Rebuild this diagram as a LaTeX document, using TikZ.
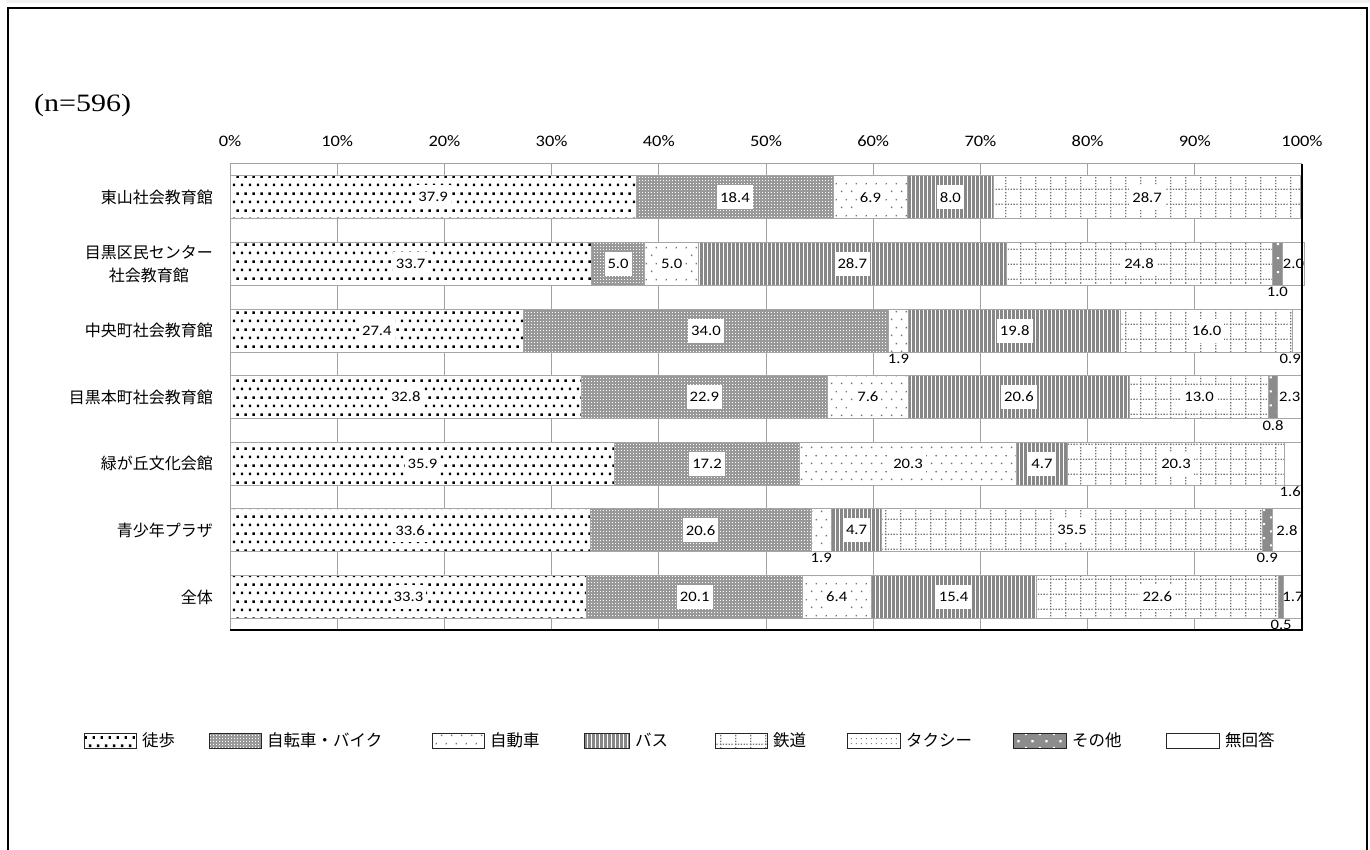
\documentclass[tikz,border=0pt]{standalone}
\usepackage{fontspec}
\newfontfamily\numfont{Carlito}[FakeStretch=1.15]
\newfontfamily\cjkfont{Noto Sans CJK JP}
\newfontfamily\titlefont{Liberation Serif}[FakeStretch=1.2]
\usetikzlibrary{patterns.meta}

\tikzdeclarepattern{name=walkdots,type=uncolored,
  bounding box={(0pt,0pt) and (8pt,17pt)},tile size={(8pt,17pt)},
  code={\fill (1pt,1pt) rectangle ++(2.6pt,2.6pt);
        \fill (5pt,9.5pt) rectangle ++(2.6pt,2.6pt);}}
\tikzdeclarepattern{name=finedots,type=uncolored,
  bounding box={(0pt,0pt) and (3pt,3pt)},tile size={(3pt,3pt)},
  code={\fill (0pt,0pt) rectangle ++(1.3pt,1.3pt);}}
\tikzdeclarepattern{name=cardots,type=uncolored,
  bounding box={(0pt,0pt) and (10pt,16pt)},tile size={(10pt,16pt)},
  code={\fill (1pt,2pt) rectangle ++(1.5pt,1.5pt);
        \fill (6pt,10pt) rectangle ++(1.5pt,1.5pt);}}
\tikzdeclarepattern{name=busbars,type=uncolored,
  bounding box={(0pt,-0.5pt) and (4pt,40.5pt)},tile size={(4pt,40pt)},
  code={\fill (0pt,-0.5pt) rectangle (2.9pt,40.5pt);}}
\tikzdeclarepattern{name=railgrid,type=uncolored,
  bounding box={(0pt,0pt) and (15pt,15pt)},tile size={(15pt,15pt)},
  code={\draw[line width=1.3pt,dash pattern=on 1.4pt off 1.6pt] (0pt,0.7pt) -- (15pt,0.7pt);
        \draw[line width=1.3pt,dash pattern=on 1.4pt off 1.6pt] (0.7pt,0pt) -- (0.7pt,15pt);}}
\tikzdeclarepattern{name=taxidots,type=uncolored,
  bounding box={(0pt,0pt) and (5pt,5pt)},tile size={(5pt,5pt)},
  code={\fill (1pt,1pt) rectangle ++(1.1pt,1.1pt);}}
\tikzdeclarepattern{name=otherdash,type=uncolored,
  bounding box={(0pt,0pt) and (14pt,14pt)},tile size={(14pt,14pt)},
  code={\fill (3pt,3pt) rectangle ++(2.2pt,2.2pt);
        \fill (10pt,10pt) rectangle ++(2.2pt,2.2pt);}}

\begin{document}
\begin{tikzpicture}[x=1pt,y=-1pt,
  seg/.style={draw=edge,line width=1pt},
  c1/.style={preaction={fill=white},pattern=walkdots,pattern color=black},
  c2/.style={preaction={fill=bike},pattern=finedots,pattern color=white},
  c3/.style={preaction={fill=white},pattern=cardots,pattern color=black!55},
  c4/.style={preaction={fill=white},pattern=busbars,pattern color=black!47},
  c5/.style={preaction={fill=white},pattern=railgrid,pattern color=black!55},
  c6/.style={preaction={fill=white},pattern=taxidots,pattern color=black!50},
  c7/.style={preaction={fill=other},pattern=otherdash,pattern color=white},
  c8/.style={fill=white},
  val/.style={font=\numfont\fontsize{14.5}{14.5}\selectfont,inner xsep=3pt,inner ysep=1.5pt},
  box/.style={fill=white,minimum height=24pt},
  tick/.style={font=\numfont\fontsize{16}{16}\selectfont,inner sep=0pt},
  cat/.style={font=\cjkfont\fontsize{16}{23}\selectfont,anchor=east,align=center,inner sep=0pt},
  legbox/.style={draw=black!85,line width=0.8pt},
  legtext/.style={font=\cjkfont\fontsize{16.5}{16.5}\selectfont,anchor=west,inner sep=0pt}]
  \colorlet{edge}{black!35}
  \colorlet{grid}{black!37}
  \colorlet{bike}{black!40}
  \colorlet{other}{black!45}

  \useasboundingbox (0,0) rectangle (1370,850);
  \fill[black!6] (6,0) rectangle (1370,3);
  \draw[line width=2pt] (8,852) -- (8,8) -- (1367,8) -- (1367,852);

  \node[font=\titlefont\fontsize{25}{25}\selectfont,anchor=west,inner sep=0pt]
    (title) at (34,105) {(n=596)};

  \foreach \i in {0,...,10} {
    \pgfmathtruncatemacro\p{10*\i}
    \draw[grid,line width=1pt] (230+107.2*\i,164) -- (230+107.2*\i,630);
    \node[tick] (tick\i) at (230+107.2*\i,141) {\p\%};
  }
  \draw[grid,line width=1pt] (230,164) -- (1302,164);

  \foreach \r/\vals in {1/{37.9,18.4,6.9,8.0,28.7,0,0,0},
                        2/{33.7,5.0,5.0,28.7,24.8,0,1.0,2.0},
                        3/{27.4,34.0,1.9,19.8,16.0,0,0,0.9},
                        4/{32.8,22.9,7.6,20.6,13.0,0,0.8,2.3},
                        5/{35.9,17.2,20.3,4.7,20.3,0,0,1.6},
                        6/{33.6,20.6,1.9,4.7,35.5,0,0.9,2.8},
                        7/{33.3,20.1,6.4,15.4,22.6,0,0.5,1.7}} {
    \pgfmathsetmacro\yc{197.3+66.6*(\r-1)}
    \foreach \v [count=\k, remember=\e as \s (initially 0),
                 evaluate=\v as \e using \s+\v] in \vals {
      \pgfmathtruncatemacro\pos{\v==0 ? 0 : (\v>=4.5 ? 1 : ((\k==8 && \v>=1.7) ? 2 : 3))}
      \ifnum\pos>0
        \draw[seg,c\k] (230+10.72*\s,\yc-21.5) rectangle (230+10.72*\e,\yc+21.5);
      \fi
      \ifcase\pos
      \or \node[val,box] (v\r-\k) at (230+5.36*\s+5.36*\e,\yc) {\v};
      \or \node[val,inner xsep=1pt] (v\r-\k) at (230+5.36*\s+5.36*\e,\yc) {\v};
      \or \ifnum\k=8
            \node[val,anchor=north east,inner xsep=1pt] (v\r-\k) at (1302,\yc+21.5) {\v};
          \else
            \node[val,anchor=north] (v\r-\k) at (230+5.36*\s+5.36*\e,\yc+21.5) {\v};
          \fi
      \fi
    }
  }
  \draw[line width=1.5pt] (230,630) -- (1302,630) -- (1302,164);

  \foreach \r/\name in {1/東山社会教育館, 2/{目黒区民センター\\社会教育館}, 3/中央町社会教育館,
                        4/目黒本町社会教育館, 5/緑が丘文化会館, 6/青少年プラザ, 7/全体}
    \node[cat] (cat\r) at (213,197.3+66.6*\r-66.6) {\name};

  \foreach \k/\x/\w/\txt in {1/84/52/徒歩, 2/209/52/自転車・バイク, 3/432/52/自動車, 4/584/45/バス,
                             5/715/52/鉄道, 6/847/53/タクシー, 7/1013/53/その他, 8/1166/53/無回答} {
    \draw[legbox,c\k] (\x,733) rectangle ++(\w,15);
    \node[legtext] (leg\k) at (\x+\w+6,740) {\txt};
  }
\end{tikzpicture}
\end{document}
